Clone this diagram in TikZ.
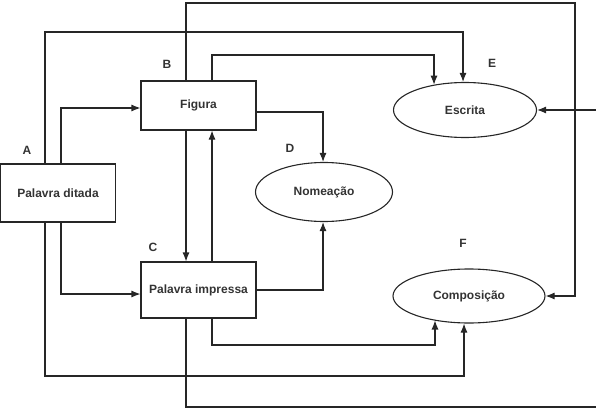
\documentclass[tikz,border=0pt]{standalone}
\usepackage{fontspec}
\setmainfont{Liberation Sans}
\usetikzlibrary{arrows.meta, positioning, shapes.geometric}

\tikzset{
  blk/.style={draw=black!85, line width=1.1pt, minimum width=115pt, inner sep=0pt,
    font=\bfseries\fontsize{12}{14}\selectfont, text=black!80},
  elp/.style={ellipse, draw=black!85, line width=1.1pt, inner sep=0pt,
    font=\bfseries\fontsize{12}{14}\selectfont, text=black!80},
  tag/.style={font=\bfseries\fontsize{12}{14}\selectfont, text=black!80},
  seta/.style={draw=black!85, line width=1.1pt, -{Latex[length=9pt,width=7pt]}},
}

\begin{document}
\begin{tikzpicture}[x=1pt, y=-1pt]
\useasboundingbox (0,0) rectangle (596,409);

\node[blk, minimum height=58pt] (ditada) at (58,193) {Palavra ditada};
\node[blk, minimum height=49pt] (figura) at (198.5,105.5) {Figura};
\node[blk, minimum height=56pt] (impressa) at (198.5,290) {Palavra impressa};
\node[elp, minimum width=137pt, minimum height=59pt] (nomeacao) at (324,192) {Nomeação};
\node[elp, minimum width=143pt, minimum height=55pt] (escrita) at (465,110) {Escrita};
\node[elp, minimum width=152pt, minimum height=54pt] (composicao) at (469,296) {Composição};

\node[tag] (tagA) at (27,150) {A};
\node[tag] (tagB) at (167,64) {B};
\node[tag] (tagC) at (153,247) {C};
\node[tag] (tagD) at (290,148) {D};
\node[tag] (tagE) at (492,63) {E};
\node[tag] (tagF) at (463,243) {F};

% saidas de A
\draw[seta] (ditada.north -| 45,0) |- (463,32) -- (escrita.north -| 463,0);
\draw[seta] (ditada.north -| 61,0) |- (figura.west |- 0,108);
\draw[seta] (ditada.south -| 61,0) |- (impressa.west |- 0,294);
\draw[seta] (ditada.south -| 45,0) |- (464,376) -- (composicao.south -| 464,0);

% saidas de B
\draw[seta] (figura.north -| 212,0) |- (434,55) -- (escrita.141 -| 434,0);
\draw[seta] (figura.east |- 0,112) -| (nomeacao.north -| 323,0);
\draw[seta] (figura.south -| 186,0) -- (impressa.north -| 186,0);
\draw[seta] (figura.north -| 186,0) |- (575,3) |- (composicao.east);

% saidas de C
\draw[seta] (impressa.north -| 212,0) -- (figura.south -| 212,0);
\draw[seta] (impressa.east) -| (nomeacao.south -| 323,0);
\draw[seta] (impressa.south -| 212,0) |- (435,345) -- (composicao.215 -| 435,0);
\draw[seta] (impressa.south -| 186,0) |- (600,407) |- (escrita.east);

\end{tikzpicture}
\end{document}
